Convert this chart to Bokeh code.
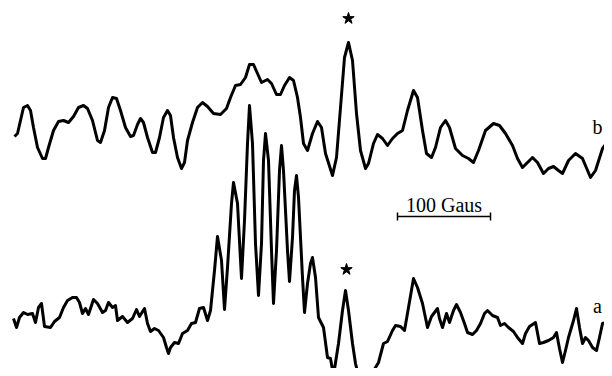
from bokeh.plotting import figure
from bokeh.models import Range1d, Label
from bokeh.embed import file_html
from bokeh.resources import INLINE

# Field positions (arbitrary units, ~1.075 G per unit) and signal levels (units from the top of the frame)
b_field = [14, 17, 20, 23, 27, 30, 33, 37, 42, 45, 48, 53, 58, 63, 68, 73, 78, 83, 87, 92, 97, 100, 104,
           108, 112, 116, 120, 125, 130, 133, 137, 140, 143, 147, 152, 155, 159, 163, 167, 170, 173, 177,
           181, 184, 187, 192, 197, 202, 207, 213, 220, 226, 230, 235, 240, 245, 249, 253, 257, 261, 267,
           271, 276, 280, 284, 289, 293, 297, 300, 303, 307, 312, 317, 321, 325, 332, 336, 340, 344, 348,
           352, 356, 360, 365, 368, 373, 377, 382, 387, 392, 397, 402, 407, 413, 417, 422, 426, 431, 435,
           440, 445, 449, 455, 462, 468, 473, 478, 485, 493, 499, 505, 512, 517, 522, 527, 532, 537, 543,
           548, 553, 558, 562, 568, 575, 582, 590, 595, 602, 608, 612]
b_signal = [136, 133, 120, 107, 105, 110, 127, 147, 158, 158, 147, 130, 121, 120, 122, 116, 107, 105, 108,
            120, 140, 142, 130, 107, 97, 98, 110, 127, 136, 135, 124, 118, 122, 137, 152, 152, 137, 117,
            110, 115, 137, 157, 168, 162, 140, 122, 107, 102, 106, 113, 114, 108, 97, 85, 84, 77, 64, 64,
            73, 82, 79, 83, 94, 94, 85, 77, 80, 97, 117, 143, 150, 133, 121, 127, 153, 175, 157, 107, 57,
            42, 60, 113, 150, 168, 163, 143, 134, 138, 145, 138, 133, 130, 110, 90, 97, 130, 153, 157, 147,
            127, 120, 127, 148, 155, 158, 162, 150, 130, 123, 125, 133, 145, 158, 167, 162, 157, 162, 173,
            168, 166, 170, 173, 160, 153, 158, 177, 170, 148, 140, 140]

a_field = [13, 16, 19, 23, 27, 32, 35, 38, 41, 44, 50, 54, 59, 63, 67, 72, 76, 79, 82, 85, 88, 93, 97,
           102, 105, 108, 112, 115, 117, 122, 127, 132, 136, 139, 144, 147, 150, 154, 158, 163, 166, 168,
           170, 174, 178, 182, 187, 191, 195, 199, 203, 207, 210, 214, 217, 221, 224, 227, 231, 233, 237,
           241, 244, 247, 249, 252, 255, 258, 261, 263, 265, 268, 271, 273, 276, 279, 281, 283, 287, 289,
           292, 294, 296, 298, 302, 304, 307, 310, 312, 315, 318, 323, 327, 330, 333, 338, 342, 345, 348,
           352, 355, 358, 367, 372, 378, 383, 387, 392, 395, 400, 404, 408, 413, 417, 422, 427, 431, 434,
           437, 439, 442, 446, 449, 453, 456, 460, 464, 467, 472, 476, 480, 484, 487, 492, 497, 500, 504,
           508, 513, 517, 522, 525, 529, 535, 539, 543, 548, 553, 556, 559, 562, 565, 568, 573, 576, 579,
           582, 585, 588, 592, 596, 599, 602, 605, 607, 612]
a_signal = [318, 327, 317, 312, 314, 313, 322, 307, 303, 326, 327, 321, 317, 307, 300, 297, 297, 302, 313,
            308, 314, 299, 303, 312, 310, 302, 307, 305, 320, 316, 322, 318, 309, 316, 308, 323, 331, 328,
            330, 337, 347, 353, 347, 342, 343, 333, 330, 323, 322, 308, 307, 320, 310, 270, 236, 260, 309,
            267, 203, 182, 203, 278, 220, 143, 105, 143, 243, 295, 243, 160, 133, 160, 250, 303, 250, 170,
            145, 170, 250, 281, 237, 190, 175, 197, 277, 312, 283, 263, 257, 277, 317, 327, 357, 358, 375,
            343, 310, 290, 310, 343, 363, 375, 377, 372, 362, 343, 341, 330, 325, 326, 330, 307, 278, 287,
            303, 327, 316, 312, 308, 318, 327, 313, 322, 310, 304, 312, 323, 332, 334, 330, 323, 313, 310,
            315, 317, 325, 323, 327, 331, 337, 343, 333, 326, 322, 343, 342, 340, 337, 332, 348, 362, 350,
            337, 320, 308, 327, 343, 337, 340, 347, 350, 337, 323, 322, 319, 322]

star_field = [348, 346]
star_level = [18, 269]
trace_labels = ["b", "a"]
label_field = [597, 597]
label_level = [126, 305]
scale_text = "100 Gaus"
scale_start, scale_end, scale_level = 397, 490, 216

TOP = 376
def amp(vals):
    return [TOP - v for v in vals]

p = figure(width=604, height=368, output_backend="svg", toolbar_location=None,
           x_range=Range1d(0, 604), y_range=Range1d(8, 376), min_border=0,
           outline_line_color=None, background_fill_color="white")
p.axis.visible = False
p.grid.visible = False

p.line(b_field, amp(b_signal), line_color="black", line_width=3, line_join="round")
p.line(a_field, amp(a_signal), line_color="black", line_width=3, line_join="round")

p.scatter(star_field, amp(star_level), marker="star", size=12, fill_color="black", line_color="black")

for t, x, y in zip(trace_labels, label_field, label_level):
    p.add_layout(Label(x=x, y=TOP - y, text=t, text_font="Liberation Serif", text_font_size="20px",
                       text_align="center", text_baseline="middle", text_color="black"))

sy = TOP - scale_level
p.segment([scale_start], [sy], [scale_end], [sy], line_color="black", line_width=1.5)
p.segment([scale_start, scale_end], [sy - 4, sy - 4], [scale_start, scale_end], [sy + 4, sy + 4],
          line_color="black", line_width=1.5)
p.add_layout(Label(x=(scale_start + scale_end) / 2, y=sy + 1, text=scale_text, text_font="Liberation Serif",
                   text_font_size="20px", text_align="center", text_baseline="bottom", text_color="black"))

open("out.html", "w").write(file_html(p, INLINE))
